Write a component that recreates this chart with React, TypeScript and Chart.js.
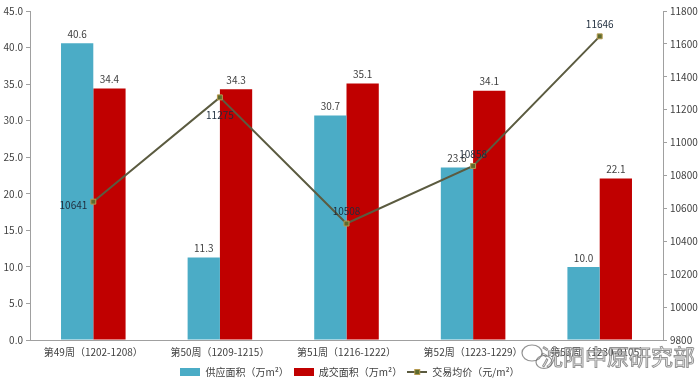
import React, { useEffect, useRef } from "react";
import { Chart, registerables } from "chart.js";

Chart.register(...registerables);

const categories = [
  "第49周（1202-1208）",
  "第50周（1209-1215）",
  "第51周（1216-1222）",
  "第52周（1223-1229）",
  "第53周（1230-0105）",
];
const supplyArea = [40.6, 11.3, 30.7, 23.6, 10.0];
const dealArea = [34.4, 34.3, 35.1, 34.1, 22.1];
const avgPrice = [10641, 11275, 10508, 10858, 11646];
const priceLabelPos = ["left", "below", "above", "above", "above"];
const seriesNames = ["供应面积（万m²）", "成交面积（万m²）", "交易均价（元/m²）"];
const watermark = "沈阳中原研究部";

const BLUE = "#4BACC6";
const RED = "#C00000";
const LINE = "#5b5b40";
const MARK_FILL = "#5e6b2e";
const MARK_BORDER = "#b59a50";
const FONT = "'Noto Sans CJK SC', 'DejaVu Sans', sans-serif";

function rectIcon(color: string) {
  const c = document.createElement("canvas");
  c.width = 20;
  c.height = 8;
  const ctx = c.getContext("2d")!;
  ctx.fillStyle = color;
  ctx.fillRect(0, 0, 20, 8);
  return c;
}
function lineIcon() {
  const c = document.createElement("canvas");
  c.width = 20;
  c.height = 8;
  const ctx = c.getContext("2d")!;
  ctx.strokeStyle = LINE;
  ctx.lineWidth = 2;
  ctx.beginPath();
  ctx.moveTo(0, 4);
  ctx.lineTo(20, 4);
  ctx.stroke();
  ctx.fillStyle = MARK_FILL;
  ctx.fillRect(7, 1, 6, 6);
  ctx.strokeStyle = MARK_BORDER;
  ctx.lineWidth = 1;
  ctx.strokeRect(7.5, 1.5, 5, 5);
  return c;
}

const labelPlugin = {
  id: "labels",
  afterDatasetsDraw(chart: any) {
    const ctx = chart.ctx;
    ctx.save();
    ctx.font = `10px ${FONT}`;
    ctx.textAlign = "center";
    [0, 1].forEach((di) => {
      const meta = chart.getDatasetMeta(di);
      const data = chart.data.datasets[di].data as number[];
      meta.data.forEach((el: any, i: number) => {
        ctx.fillStyle = "#404040";
        ctx.textBaseline = "bottom";
        ctx.fillText(data[i].toFixed(1), el.x, el.y - 4);
      });
    });
    const lm = chart.getDatasetMeta(2);
    lm.data.forEach((el: any, i: number) => {
      const pos = priceLabelPos[i];
      ctx.fillStyle = "#1f2d3d";
      let x = el.x,
        y = el.y;
      if (pos === "left") {
        ctx.textAlign = "right";
        ctx.textBaseline = "middle";
        x -= 6;
        y += 4;
      } else if (pos === "below") {
        ctx.textAlign = "center";
        ctx.textBaseline = "top";
        y += 13;
      } else {
        ctx.textAlign = "center";
        ctx.textBaseline = "bottom";
        y -= 7;
      }
      ctx.fillText(String(avgPrice[i]), x, y);
    });
    ctx.restore();
  },
  afterDraw(chart: any) {
    const ctx = chart.ctx;
    ctx.save();
    const w = chart.width;
    const h = chart.height;
    ctx.font = `22px ${FONT}`;
    ctx.textAlign = "right";
    ctx.textBaseline = "middle";
    ctx.lineWidth = 1;
    ctx.strokeStyle = "rgba(110,110,110,0.75)";
    ctx.fillStyle = "rgba(255,255,255,0.6)";
    ctx.fillText(watermark, w - 5, h - 34);
    ctx.strokeText(watermark, w - 5, h - 34);
    ctx.lineWidth = 1.2;
    ctx.beginPath();
    ctx.ellipse(w - 168, h - 38, 10, 8, 0, 0, Math.PI * 2);
    ctx.stroke();
    ctx.beginPath();
    ctx.ellipse(w - 156, h - 29, 8, 6.5, 0, 0, Math.PI * 2);
    ctx.stroke();
    ctx.restore();
  },
};

export default function App() {
  const ref = useRef<HTMLCanvasElement>(null);
  useEffect(() => {
    document.body.style.margin = "0";
    const icons = [rectIcon(BLUE), rectIcon(RED), lineIcon()];
    const chart = new Chart(ref.current!, {
      type: "bar",
      data: {
        labels: categories,
        datasets: [
          {
            type: "bar",
            label: seriesNames[0],
            data: supplyArea,
            backgroundColor: BLUE,
            yAxisID: "y",
            order: 1,
            categoryPercentage: 0.51,
            barPercentage: 1,
          },
          {
            type: "bar",
            label: seriesNames[1],
            data: dealArea,
            backgroundColor: RED,
            yAxisID: "y",
            order: 1,
            categoryPercentage: 0.51,
            barPercentage: 1,
          },
          {
            type: "line",
            label: seriesNames[2],
            data: avgPrice,
            borderColor: LINE,
            borderWidth: 2,
            backgroundColor: MARK_FILL,
            pointStyle: "rect",
            pointRadius: 3.5,
            pointBackgroundColor: MARK_FILL,
            pointBorderColor: MARK_BORDER,
            pointBorderWidth: 1,
            yAxisID: "y1",
            order: 0,
            tension: 0,
          },
        ] as any,
      },
      options: {
        animation: false,
        responsive: false,
        maintainAspectRatio: false,
        layout: { padding: { top: 11, bottom: 4, left: 0, right: 0 } },
        plugins: {
          tooltip: { enabled: false },
          legend: {
            position: "bottom",
            labels: {
              usePointStyle: true,
              pointStyleWidth: 20,
              boxHeight: 8,
              padding: 5,
              color: "#404040",
              font: { size: 10, family: FONT },
              generateLabels: (c: any) => {
                const base = (Chart.defaults.plugins.legend.labels as any).generateLabels(c);
                return base
                  .sort((a: any, b: any) => a.datasetIndex - b.datasetIndex)
                  .map((l: any) => ({ ...l, pointStyle: icons[l.datasetIndex] }));
              },
            },
          },
        },
        scales: {
          x: {
            grid: { display: false, drawTicks: false },
            border: { color: "#a0a0a0" },
            ticks: { color: "#404040", font: { size: 10, family: FONT }, maxRotation: 0, padding: 6 },
            afterFit: (s: any) => {
              s.height = 22;
            },
          },
          y: {
            position: "left",
            min: 0,
            max: 45,
            grid: { drawOnChartArea: false, drawTicks: true, tickLength: 4, color: "#a0a0a0" },
            border: { color: "#a0a0a0" },
            ticks: {
              stepSize: 5,
              color: "#404040",
              padding: 3,
              font: { size: 10, family: FONT },
              callback: (v: any) => Number(v).toFixed(1),
            },
            afterFit: (s: any) => {
              s.width = 30;
            },
          },
          y1: {
            position: "right",
            min: 9800,
            max: 11800,
            grid: { drawOnChartArea: false, drawTicks: true, tickLength: 4, color: "#a0a0a0" },
            border: { color: "#a0a0a0" },
            ticks: {
              stepSize: 200,
              color: "#404040",
              padding: 3,
              font: { size: 10, family: FONT },
              callback: (v: any) => String(v),
            },
            afterFit: (s: any) => {
              s.width = 37;
            },
          },
        },
      } as any,
      plugins: [labelPlugin],
    });
    return () => chart.destroy();
  }, []);
  return (
    <div style={{ position: "fixed", left: 0, top: 0, width: 700, height: 391, background: "#fff" }}>
      <canvas ref={ref} width={700} height={391} style={{ width: 700, height: 391 }} />
    </div>
  );
}
